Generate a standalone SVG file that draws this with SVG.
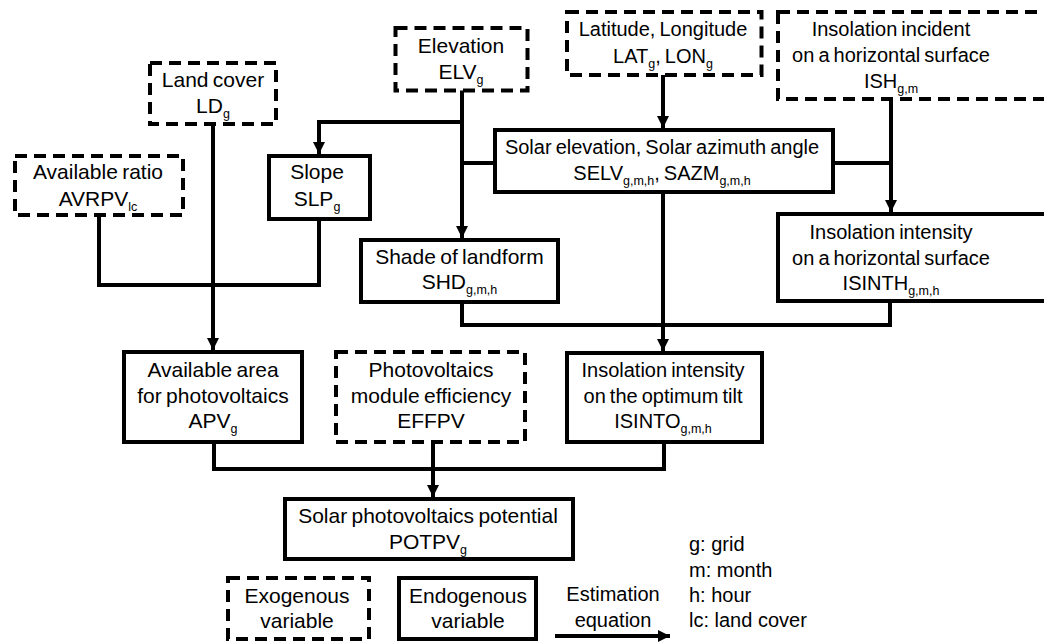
<svg xmlns="http://www.w3.org/2000/svg" width="1044" height="642" viewBox="0 0 1044 642">
<style>
.box{fill:#fff;stroke:#000;stroke-width:4}
.exo{stroke-dasharray:12 7}
.conn{fill:none;stroke:#000;stroke-width:4;stroke-linejoin:miter;stroke-linecap:butt}
text{font-family:"Liberation Sans",Arial,sans-serif;fill:#000;text-anchor:middle;word-spacing:-1.5px}
.t21{font-size:21px}
.t20{font-size:20px}
.sub{font-size:12.5px}
.leg{text-anchor:start;word-spacing:0}
</style>
<defs>
<marker id="arr" markerUnits="userSpaceOnUse" viewBox="0 0 12 12" markerWidth="12" markerHeight="12" refX="12" refY="6" orient="auto">
<path d="M0,0 L12,6 L0,12 z" fill="#000"/>
</marker>
</defs>
<rect width="1044" height="642" fill="#fff"/>

<g id="connectors">
<path class="conn" d="M462,90 V238" marker-end="url(#arr)"/>
<path class="conn" d="M462,122 H319 V154" marker-end="url(#arr)"/>
<path class="conn" d="M462,163 H495"/>
<path class="conn" d="M663,75 V128" marker-end="url(#arr)"/>
<path class="conn" d="M891,99 V212" marker-end="url(#arr)"/>
<path class="conn" d="M833,163 H891"/>
<path class="conn" d="M663,192 V351" marker-end="url(#arr)"/>
<path class="conn" d="M462,302 V325 H890 V301"/>
<path class="conn" d="M213,124 V350" marker-end="url(#arr)"/>
<path class="conn" d="M99,215 V285 H319 V219"/>
<path class="conn" d="M214,442 V469 H664 V442"/>
<path class="conn" d="M433,442 V497" marker-end="url(#arr)"/>
<path class="conn" d="M555,636 H670" marker-end="url(#arr)"/>
</g>

<g id="landcover">
<rect class="box exo" x="150" y="63" width="126" height="61"/>
<text class="t21" x="213" y="87">Land cover</text>
<text class="t21" x="213" y="113">LD<tspan class="sub" dy="5">g</tspan></text>
</g>

<g id="elevation">
<rect class="box exo" x="395.5" y="28" width="132" height="62.5"/>
<text class="t21" x="461" y="53">Elevation</text>
<text class="t21" x="461" y="79">ELV<tspan class="sub" dy="5">g</tspan></text>
</g>

<g id="availratio">
<rect class="box exo" x="15" y="156" width="168" height="59"/>
<text class="t21" x="98" y="179">Available ratio</text>
<text class="t21" x="98" y="206">AVRPV<tspan class="sub" dy="5">lc</tspan></text>
</g>

<g id="slope">
<rect class="box" x="269" y="156" width="101" height="63"/>
<text class="t21" x="317" y="179">Slope</text>
<text class="t21" x="317" y="206">SLP<tspan class="sub" dy="5">g</tspan></text>
</g>

<g id="shade">
<rect class="box" x="361" y="240" width="197" height="62"/>
<text class="t21" x="459.5" y="264">Shade of landform</text>
<text class="t21" x="459.5" y="289">SHD<tspan class="sub" dy="5">g,m,h</tspan></text>
</g>

<g id="latlon">
<rect class="box exo" x="567" y="12" width="194.5" height="63"/>
<text class="t20" x="663" y="36">Latitude, Longitude</text>
<text class="t20" x="663" y="63">LAT<tspan class="sub" dy="5">g</tspan><tspan dy="-5">, LON</tspan><tspan class="sub" dy="5">g</tspan></text>
</g>

<g id="ish">
<rect class="box exo" x="778" y="12" width="280" height="87"/>
<text class="t20" x="891" y="36">Insolation incident</text>
<text class="t20" x="891" y="62">on a horizontal surface</text>
<text class="t20" x="891" y="88">ISH<tspan class="sub" dy="5">g,m</tspan></text>
</g>

<g id="solar">
<rect class="box" x="495" y="130" width="338" height="62"/>
<text class="t20" x="662" y="154">Solar elevation, Solar azimuth angle</text>
<text class="t20" x="662" y="180">SELV<tspan class="sub" dy="5">g,m,h</tspan><tspan dy="-5">, SAZM</tspan><tspan class="sub" dy="5">g,m,h</tspan></text>
</g>

<g id="isinth">
<rect class="box" x="778" y="214" width="280" height="87"/>
<text class="t20" x="891" y="239">Insolation intensity</text>
<text class="t20" x="891" y="265">on a horizontal surface</text>
<text class="t20" x="891" y="290">ISINTH<tspan class="sub" dy="5">g,m,h</tspan></text>
</g>

<g id="apv">
<rect class="box" x="124" y="352" width="178" height="90"/>
<text class="t21" x="213" y="377">Available area</text>
<text class="t21" x="213" y="403">for photovoltaics</text>
<text class="t21" x="213" y="428">APV<tspan class="sub" dy="5">g</tspan></text>
</g>

<g id="effpv">
<rect class="box exo" x="336" y="352" width="189" height="90"/>
<text class="t21" x="431" y="377">Photovoltaics</text>
<text class="t21" x="431" y="403">module efficiency</text>
<text class="t21" x="431" y="428">EFFPV</text>
</g>

<g id="isinto">
<rect class="box" x="567" y="353" width="195" height="89"/>
<text class="t20" x="663" y="377">Insolation intensity</text>
<text class="t20" x="663" y="403">on the optimum tilt</text>
<text class="t20" x="663" y="428">ISINTO<tspan class="sub" dy="5">g,m,h</tspan></text>
</g>

<g id="potpv">
<rect class="box" x="285" y="499" width="288" height="60"/>
<text class="t21" x="428" y="523">Solar photovoltaics potential</text>
<text class="t21" x="428" y="549">POTPV<tspan class="sub" dy="5">g</tspan></text>
</g>

<g id="legend-exo">
<rect class="box exo" x="228" y="578" width="141" height="61"/>
<text class="t21" x="297" y="603">Exogenous</text>
<text class="t21" x="297" y="628">variable</text>
</g>

<g id="legend-endo">
<rect class="box" x="399" y="578" width="137" height="61"/>
<text class="t21" x="468" y="603">Endogenous</text>
<text class="t21" x="468" y="628">variable</text>
</g>

<g id="legend-eq">
<text class="t20" x="613" y="601">Estimation</text>
<text class="t20" x="613" y="627">equation</text>
</g>

<g id="legend-notes">
<text class="t20 leg" x="689" y="551">g: grid</text>
<text class="t20 leg" x="689" y="577">m: month</text>
<text class="t20 leg" x="689" y="602">h: hour</text>
<text class="t20 leg" x="689" y="627">lc: land cover</text>
</g>
</svg>
